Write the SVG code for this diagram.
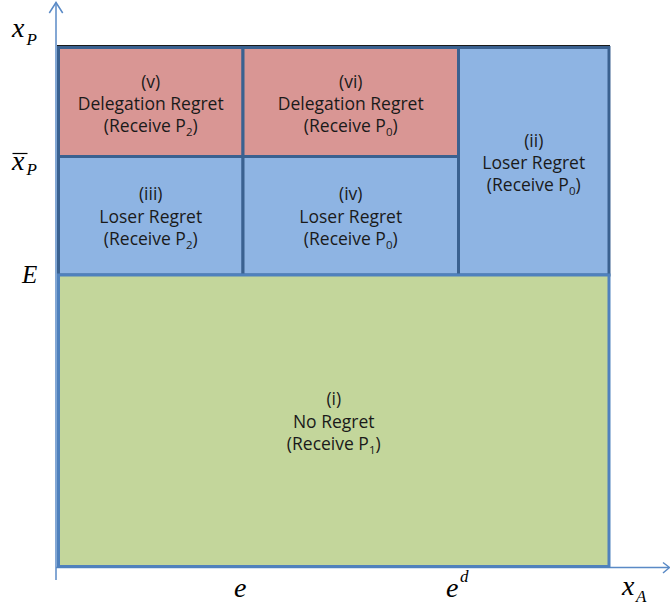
<svg xmlns="http://www.w3.org/2000/svg" width="670" height="605" viewBox="0 0 670 605">
<style>
.cell{stroke:#3A6190;stroke-width:3}
.pink{fill:#D99694}
.blue{fill:#8EB4E3}
.green{fill:#C3D69B;stroke:#4F81BD;stroke-width:3}
.lbl{font-family:"Open Sans","Noto Sans",sans-serif;font-size:17.5px;fill:#1a1a1a;text-anchor:middle}
.sub{font-size:11.5px}
.ax{fill:none;stroke:#5A8AC6;stroke-width:1.5}
.m{font-family:"Liberation Serif","Times New Roman",serif;font-style:italic;fill:#000}
</style>
<g id="connectors">
<path class="ax" d="M56,580 V2.5"/>
<path class="ax" d="M49.3,13 L56,2.5 L62.7,13"/>
<path class="ax" d="M56,567.5 H669"/>
<path class="ax" d="M663,562.5 L669.5,567.5 L663,573"/>
</g>
<line x1="57" y1="45.6" x2="610" y2="45.6" stroke="#1a1a1a" stroke-width="1.2"/>
<g id="v">
<rect class="cell pink" x="58.5" y="47.5" width="184.5" height="109"/>
<text class="lbl" x="150.75" y="88">(v)</text>
<text class="lbl" x="150.75" y="110">Delegation Regret</text>
<text class="lbl" x="150.75" y="132">(Receive P<tspan class="sub" dy="4">2</tspan><tspan dy="-4">)</tspan></text>
</g>
<g id="vi">
<rect class="cell pink" x="243" y="47.5" width="215.5" height="109"/>
<text class="lbl" x="350.75" y="88">(vi)</text>
<text class="lbl" x="350.75" y="110">Delegation Regret</text>
<text class="lbl" x="350.75" y="132">(Receive P<tspan class="sub" dy="4">0</tspan><tspan dy="-4">)</tspan></text>
</g>
<g id="iii">
<rect class="cell blue" x="58.5" y="156.5" width="184.5" height="118.5"/>
<text class="lbl" x="150.75" y="200">(iii)</text>
<text class="lbl" x="150.75" y="222.5">Loser Regret</text>
<text class="lbl" x="150.75" y="245">(Receive P<tspan class="sub" dy="4">2</tspan><tspan dy="-4">)</tspan></text>
</g>
<g id="iv">
<rect class="cell blue" x="243" y="156.5" width="215.5" height="118.5"/>
<text class="lbl" x="350.75" y="200">(iv)</text>
<text class="lbl" x="350.75" y="222.5">Loser Regret</text>
<text class="lbl" x="350.75" y="245">(Receive P<tspan class="sub" dy="4">0</tspan><tspan dy="-4">)</tspan></text>
</g>
<g id="ii">
<rect class="cell blue" x="458.5" y="47.5" width="150.5" height="227.5"/>
<text class="lbl" x="533.75" y="146.5">(ii)</text>
<text class="lbl" x="533.75" y="168.5">Loser Regret</text>
<text class="lbl" x="533.75" y="191">(Receive P<tspan class="sub" dy="4">0</tspan><tspan dy="-4">)</tspan></text>
</g>
<g id="i">
<rect class="green" x="58.5" y="275" width="550.5" height="291.5"/>
<text class="lbl" x="333.75" y="405">(i)</text>
<text class="lbl" x="333.75" y="427.5">No Regret</text>
<text class="lbl" x="333.75" y="450">(Receive P<tspan class="sub" dy="4">1</tspan><tspan dy="-4">)</tspan></text>
</g>
<g id="axis-labels">
<text class="m" x="12" y="37" font-size="28">x</text>
<text class="m" x="26.5" y="45" font-size="17">P</text>
<line x1="12.5" y1="153.5" x2="27.5" y2="153.5" stroke="#000" stroke-width="1.2"/>
<text class="m" x="12" y="170" font-size="28">x</text>
<text class="m" x="26.5" y="175" font-size="17">P</text>
<text class="m" x="22" y="283" font-size="25">E</text>
<text class="m" x="234" y="597" font-size="28">e</text>
<text class="m" x="446" y="597" font-size="28">e</text>
<text class="m" x="460" y="582" font-size="17">d</text>
<text class="m" x="622" y="595" font-size="28">x</text>
<text class="m" x="636" y="602" font-size="17">A</text>
</g>
</svg>
